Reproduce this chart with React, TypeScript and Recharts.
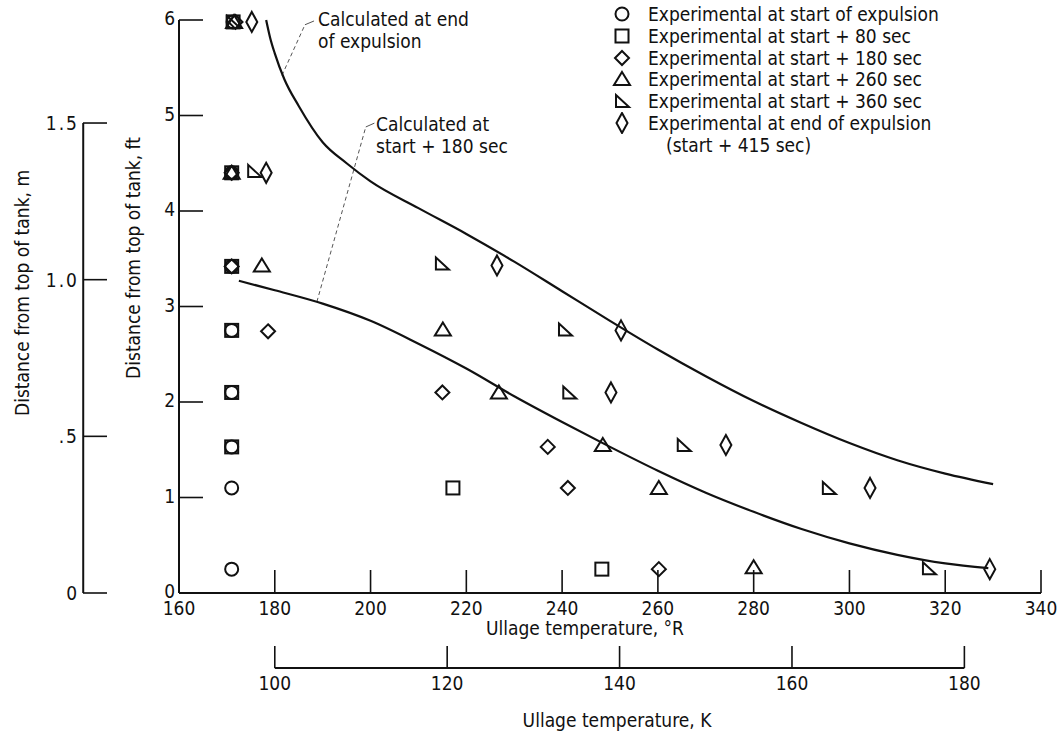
import React from 'react';
import { ComposedChart, Scatter, Line, XAxis, YAxis, ReferenceLine } from 'recharts';

const FONT = "'Liberation Sans Narrow', 'DejaVu Sans Condensed', 'DejaVu Sans', sans-serif";

// ullage temperature (deg R) vs distance from top of tank (ft)
const startOfExpulsion = [
  { x: 171, y: 0.25 }, { x: 171, y: 1.1 }, { x: 171, y: 1.53 }, { x: 171, y: 2.1 },
  { x: 171, y: 2.75 }, { x: 171, y: 3.42 }, { x: 171, y: 4.4 }, { x: 171.3, y: 5.98 },
];
const start80 = [
  { x: 248.3, y: 0.25 }, { x: 217.2, y: 1.1 }, { x: 171, y: 1.53 }, { x: 171, y: 2.1 },
  { x: 171, y: 2.75 }, { x: 171, y: 3.42 }, { x: 171, y: 4.4 }, { x: 171.3, y: 5.98 },
];
const start180 = [
  { x: 260.2, y: 0.25 }, { x: 241.2, y: 1.1 }, { x: 237, y: 1.53 }, { x: 215, y: 2.1 },
  { x: 178.6, y: 2.74 }, { x: 171, y: 3.42 }, { x: 171, y: 4.4 }, { x: 171.8, y: 5.98 },
];
const start260 = [
  { x: 280, y: 0.27 }, { x: 260.2, y: 1.1 }, { x: 248.5, y: 1.55 }, { x: 226.8, y: 2.1 },
  { x: 215.1, y: 2.76 }, { x: 177.3, y: 3.43 }, { x: 171, y: 4.4 }, { x: 171.5, y: 5.98 },
];
const start360 = [
  { x: 316.6, y: 0.26 }, { x: 295.7, y: 1.1 }, { x: 265.4, y: 1.55 }, { x: 241.5, y: 2.1 },
  { x: 240.6, y: 2.76 }, { x: 214.9, y: 3.45 }, { x: 175.7, y: 4.42 }, { x: 171.3, y: 5.98 },
];
const endOfExpulsion = [
  { x: 329.3, y: 0.25 }, { x: 304.3, y: 1.1 }, { x: 274.2, y: 1.55 }, { x: 250.2, y: 2.1 },
  { x: 252.3, y: 2.75 }, { x: 226.4, y: 3.43 }, { x: 178.2, y: 4.4 }, { x: 175.2, y: 5.98 },
];

const calcEnd = [
  { x: 178.2, y: 6.0 }, { x: 179, y: 5.82 }, { x: 180, y: 5.65 }, { x: 182, y: 5.38 },
  { x: 185, y: 5.1 }, { x: 190, y: 4.72 }, { x: 195, y: 4.5 }, { x: 200, y: 4.31 },
  { x: 210, y: 4.03 }, { x: 220, y: 3.76 }, { x: 230, y: 3.47 }, { x: 240, y: 3.16 },
  { x: 250, y: 2.85 }, { x: 260, y: 2.55 }, { x: 270, y: 2.27 }, { x: 280, y: 2.01 },
  { x: 290, y: 1.78 }, { x: 300, y: 1.57 }, { x: 310, y: 1.39 }, { x: 320, y: 1.25 },
  { x: 330, y: 1.14 },
];
const calc180 = [
  { x: 172.5, y: 3.27 }, { x: 180, y: 3.17 }, { x: 190, y: 3.03 }, { x: 200, y: 2.85 },
  { x: 210, y: 2.61 }, { x: 220, y: 2.35 }, { x: 230, y: 2.06 }, { x: 240, y: 1.79 },
  { x: 250, y: 1.53 }, { x: 260, y: 1.28 }, { x: 270, y: 1.05 }, { x: 280, y: 0.85 },
  { x: 290, y: 0.67 }, { x: 300, y: 0.52 }, { x: 310, y: 0.4 }, { x: 320, y: 0.31 },
  { x: 329, y: 0.26 },
];

const rankineTicks = [160, 180, 200, 220, 240, 260, 280, 300, 320, 340];
const kelvinTicks = [100, 120, 140, 160, 180];
const feetTicks = [0, 1, 2, 3, 4, 5, 6];
const meterTicks = [0, 0.5, 1, 1.5];
const meterLabels: Record<number, string> = { 0: '0', 0.5: '.5', 1: '1.0', 1.5: '1.5' };

const legendItems = [
  { kind: 'circle', label: 'Experimental at start of expulsion' },
  { kind: 'square', label: 'Experimental at start + 80 sec' },
  { kind: 'diamond', label: 'Experimental at start + 180 sec' },
  { kind: 'triangle', label: 'Experimental at start + 260 sec' },
  { kind: 'right', label: 'Experimental at start + 360 sec' },
  { kind: 'tall', label: 'Experimental at end of expulsion' },
];

// the kelvin scale has no marks of its own; these invisible points tie the axis in
const kelvinAnchors = kelvinTicks.map((k) => ({ x: k, y: 0 }));

const W = 1057;
const H = 737;
const MARGIN = { top: 20, right: 16, left: 0, bottom: 18 };
const R_AXIS_H = 75;
const K_AXIS_H = 51;
const PLOT_H = H - MARGIN.top - MARGIN.bottom - R_AXIS_H - K_AXIS_H;
const KELVIN_AXIS_FT = -R_AXIS_H / (PLOT_H / 6); // kelvin scale line, in feet below zero

const INK = '#111';
const SW = 2;

function marker(kind: string, cx: number, cy: number) {
  const common = { fill: 'none', stroke: INK, strokeWidth: SW };
  switch (kind) {
    case 'circle':
      return <circle cx={cx} cy={cy} r={6.5} {...common} />;
    case 'square':
      return <rect x={cx - 6.5} y={cy - 6.5} width={13} height={13} {...common} />;
    case 'diamond':
      return <path d={`M${cx},${cy - 7}L${cx + 7},${cy}L${cx},${cy + 7}L${cx - 7},${cy}Z`} {...common} />;
    case 'triangle':
      return <path d={`M${cx},${cy - 7}L${cx + 8},${cy + 6}L${cx - 8},${cy + 6}Z`} {...common} />;
    case 'right':
      return <path d={`M${cx - 6},${cy - 6}L${cx + 7},${cy + 6}L${cx - 6},${cy + 6}Z`} {...common} />;
    default:
      return <path d={`M${cx},${cy - 10}L${cx + 5.5},${cy}L${cx},${cy + 10}L${cx - 5.5},${cy}Z`} {...common} />;
  }
}

const shapeOf = (kind: string) => (props: any) => marker(kind, props.cx, props.cy);
const noShape = () => <g />;

const RankineTick = (props: any) => {
  const { x, y, payload } = props;
  return (
    <g>
      {payload.value !== 160 && <line x1={x} y1={y} x2={x} y2={y - 23} stroke={INK} strokeWidth={1.6} />}
      <text x={x} y={y + 22} textAnchor="middle" fontSize={19} fontFamily={FONT} fill={INK}>{payload.value}</text>
    </g>
  );
};

const KelvinTick = (props: any) => {
  const { x, y, payload } = props;
  return (
    <g>
      <line x1={x} y1={y} x2={x} y2={y - 22} stroke={INK} strokeWidth={1.6} />
      <text x={x} y={y + 22} textAnchor="middle" fontSize={19} fontFamily={FONT} fill={INK}>{payload.value}</text>
    </g>
  );
};

const FeetTick = (props: any) => {
  const { x, y, payload } = props;
  return (
    <g>
      {payload.value !== 0 && <line x1={x} y1={y} x2={x + 24} y2={y} stroke={INK} strokeWidth={1.6} />}
      <text x={x - 4} y={y + 5} textAnchor="end" fontSize={19} fontFamily={FONT} fill={INK}>{payload.value}</text>
    </g>
  );
};

const MeterTick = (props: any) => {
  const { x, y, payload } = props;
  return (
    <g>
      <line x1={x} y1={y} x2={x + 24} y2={y} stroke={INK} strokeWidth={1.6} />
      <text x={x - 4} y={y + 7} textAnchor="end" fontSize={19} fontFamily={FONT} fill={INK} letterSpacing={2}>
        {meterLabels[payload.value]}
      </text>
    </g>
  );
};

const textStyle: React.CSSProperties = {
  position: 'absolute',
  fontFamily: FONT,
  fontSize: 19,
  color: INK,
  whiteSpace: 'nowrap',
  lineHeight: '22px',
};

export default function App() {
  return (
    <div style={{ position: 'absolute', left: 0, top: 0, width: W, height: H, background: '#fff' }}>
      <ComposedChart width={W} height={H} margin={MARGIN}>
        <XAxis
          dataKey="x"
          type="number"
          domain={[160, 340]}
          ticks={rankineTicks}
          height={R_AXIS_H}
          tickSize={0}
          tickMargin={0}
          tickLine={false}
          axisLine={{ stroke: INK, strokeWidth: 2 }}
          tick={<RankineTick />}
        />
        <XAxis
          xAxisId="K"
          dataKey="x"
          type="number"
          domain={[160 / 1.8, 340 / 1.8]}
          ticks={kelvinTicks}
          height={K_AXIS_H}
          tickSize={0}
          tickMargin={0}
          tickLine={false}
          axisLine={false}
          tick={<KelvinTick />}
        />
        <YAxis
          dataKey="y"
          type="number"
          domain={[0, 6]}
          ticks={feetTicks}
          width={96}
          tickSize={0}
          tickMargin={0}
          tickLine={false}
          axisLine={{ stroke: INK, strokeWidth: 2 }}
          tick={<FeetTick />}
        />
        <YAxis
          yAxisId="m"
          type="number"
          domain={[0, 6 * 0.3048]}
          ticks={meterTicks}
          width={83}
          tickSize={0}
          tickMargin={0}
          tickLine={false}
          axisLine={false}
          tick={<MeterTick />}
          allowDataOverflow
        />

        {/* secondary axis lines */}
        <ReferenceLine yAxisId="m" segment={[{ x: 140, y: 0 }, { x: 140, y: 1.5 }]} stroke={INK} strokeWidth={2} ifOverflow="visible" />
        <ReferenceLine xAxisId="K" segment={[{ x: 100, y: KELVIN_AXIS_FT }, { x: 180, y: KELVIN_AXIS_FT }]} stroke={INK} strokeWidth={2} ifOverflow="visible" />

        {/* leader lines of the curve notes */}
        <ReferenceLine segment={[{ x: 181.5, y: 5.42 }, { x: 186.3, y: 5.95 }]} stroke="#555" strokeWidth={1} strokeDasharray="4 3" ifOverflow="visible" />
        <ReferenceLine segment={[{ x: 186.3, y: 5.95 }, { x: 188.2, y: 5.99 }]} stroke="#555" strokeWidth={1} ifOverflow="visible" />
        <ReferenceLine segment={[{ x: 188.8, y: 3.05 }, { x: 199.0, y: 4.88 }]} stroke="#555" strokeWidth={1} strokeDasharray="4 3" ifOverflow="visible" />
        <ReferenceLine segment={[{ x: 199.0, y: 4.88 }, { x: 200.8, y: 4.92 }]} stroke="#555" strokeWidth={1} ifOverflow="visible" />

        <Line data={calcEnd} dataKey="y" type="monotone" stroke={INK} strokeWidth={2.2} dot={false} isAnimationActive={false} />
        <Line data={calc180} dataKey="y" type="monotone" stroke={INK} strokeWidth={2.2} dot={false} isAnimationActive={false} />

        <Scatter data={startOfExpulsion} dataKey="y" shape={shapeOf('circle')} isAnimationActive={false} />
        <Scatter data={start80} dataKey="y" shape={shapeOf('square')} isAnimationActive={false} />
        <Scatter data={start180} dataKey="y" shape={shapeOf('diamond')} isAnimationActive={false} />
        <Scatter data={start260} dataKey="y" shape={shapeOf('triangle')} isAnimationActive={false} />
        <Scatter data={start360} dataKey="y" shape={shapeOf('right')} isAnimationActive={false} />
        <Scatter data={endOfExpulsion} dataKey="y" shape={shapeOf('tall')} isAnimationActive={false} />
        <Scatter xAxisId="K" data={kelvinAnchors} dataKey="y" shape={noShape} isAnimationActive={false} />
      </ComposedChart>

      {/* axis titles */}
      <div style={{ ...textStyle, left: 22, top: 293, transform: 'translate(-50%, -50%) rotate(-90deg)' }}>
        Distance from top of tank, m
      </div>
      <div style={{ ...textStyle, left: 133, top: 258, transform: 'translate(-50%, -50%) rotate(-90deg)' }}>
        Distance from top of tank, ft
      </div>
      <div style={{ ...textStyle, left: 585, top: 628, transform: 'translate(-50%, -50%)' }}>
        Ullage temperature, °R
      </div>
      <div style={{ ...textStyle, left: 617, top: 720, transform: 'translate(-50%, -50%)' }}>
        Ullage temperature, K
      </div>

      {/* curve notes */}
      <div style={{ ...textStyle, left: 318, top: 8 }}>
        Calculated at end<br />of expulsion
      </div>
      <div style={{ ...textStyle, left: 376, top: 113 }}>
        Calculated at<br />start + 180 sec
      </div>

      {/* legend */}
      <div style={{ position: 'absolute', left: 610, top: 3 }}>
        {legendItems.map((item) => (
          <div key={item.kind} style={{ display: 'flex', alignItems: 'center', height: 21.8 }}>
            <svg width={24} height={22}>{marker(item.kind, 12, 11)}</svg>
            <span style={{ ...textStyle, position: 'static', marginLeft: 14 }}>{item.label}</span>
          </div>
        ))}
        <div style={{ ...textStyle, position: 'static', marginLeft: 56, height: 21.8 }}>(start + 415 sec)</div>
      </div>
    </div>
  );
}
